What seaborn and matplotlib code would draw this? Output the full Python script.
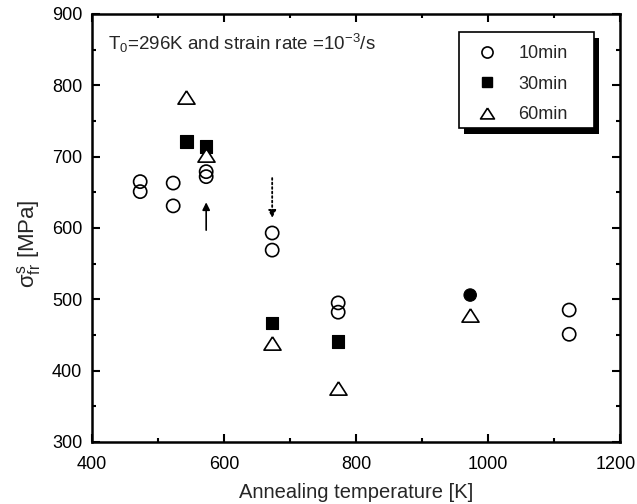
import numpy as np
import pandas as pd
import matplotlib
matplotlib.use("Agg")
import matplotlib.pyplot as plt
import matplotlib.transforms as mtransforms
import seaborn as sns
from matplotlib.lines import Line2D
from matplotlib.patches import Rectangle

# ---- data ----
T_10 = [473, 473, 523, 523, 573, 573, 673, 673, 773, 773, 1123, 1123]
S_10 = [665, 651, 663, 631, 679, 672, 593, 569, 495, 482, 485, 451]
T_30 = [543, 573, 673, 773, 973]
S_30 = [721, 714, 467, 441, 506]
SHAPE_30 = ["sq", "sq", "sq", "sq", "ci"]
T_60 = [543, 573, 673, 773, 973]
S_60 = [784, 702, 439, 376, 478]
LABELS = ["10min", "30min", "60min"]
ANNOT = r"T$_0$=296K and strain rate =10$^{-3}$/s"

sns.set_theme(style="ticks")
plt.rcParams["font.family"] = ["Liberation Sans", "DejaVu Sans"]
plt.rcParams["mathtext.fontset"] = "custom"
plt.rcParams["mathtext.rm"] = "Liberation Sans"
plt.rcParams["mathtext.it"] = "Liberation Sans"
plt.rcParams["mathtext.bf"] = "Liberation Sans:bold"

fig = plt.figure(figsize=(6.37, 5.04), dpi=100)
ax = fig.add_axes([92 / 637, 62 / 504, 528 / 637, 428 / 504])

df10 = pd.DataFrame({"T": T_10, "S": S_10})
df30 = pd.DataFrame({"T": T_30, "S": S_30, "shape": SHAPE_30})
df60 = pd.DataFrame({"T": T_60, "S": S_60})

tri = [(0, 0.78), (-1, -0.78), (1, -0.78), (0, 0.78)]

sns.scatterplot(data=df10, x="T", y="S", marker="o", s=90, facecolor="none",
                edgecolor="black", linewidth=1.2, ax=ax, legend=False, zorder=3)
sns.scatterplot(data=df30, x="T", y="S", style="shape",
                markers={"sq": "s", "ci": "o"}, s=80, color="black",
                edgecolor="black", linewidth=0.8, ax=ax, legend=False, zorder=3)
sns.scatterplot(data=df60, x="T", y="S", marker=tri, s=150, facecolor="white",
                edgecolor="black", linewidth=1.2, ax=ax, legend=False, zorder=4)

# arrows
ax.annotate("", xy=(573, 636), xytext=(573, 597),
            arrowprops=dict(arrowstyle="-|>", color="black", lw=1.2,
                            mutation_scale=11, shrinkA=0, shrinkB=0))
ax.annotate("", xy=(673, 614), xytext=(673, 670),
            arrowprops=dict(arrowstyle="-|>", color="black", lw=1.3,
                            linestyle=(0, (1, 1.5)), mutation_scale=11,
                            shrinkA=0, shrinkB=0))

ax.text(0.031, 0.932, ANNOT, transform=ax.transAxes, fontsize=13.5,
        ha="left", va="center")

ax.set_xlim(400, 1200)
ax.set_ylim(300, 900)
ax.set_xticks(np.arange(400, 1201, 200))
ax.set_xticks(np.arange(400, 1201, 100), minor=True)
ax.set_yticks(np.arange(300, 901, 100))
ax.set_yticks(np.arange(300, 901, 50), minor=True)
ax.tick_params(which="both", direction="in", top=True, right=True,
               labelsize=13, width=1.5, colors="black")
ax.tick_params(which="major", length=6)
ax.tick_params(axis="x", which="major", pad=10)
ax.tick_params(axis="y", which="major", pad=7)
ax.tick_params(which="minor", length=3)
for sp in ax.spines.values():
    sp.set_linewidth(1.8)
    sp.set_color("black")

ax.set_xlabel("Annealing temperature [K]", fontsize=14.5, labelpad=7)
ax.set_ylabel(r"$\sigma^{s}_{fr}$ [MPa]", fontsize=16)
ax.yaxis.set_label_coords(-0.093, 0.463)

# shift the last x tick label a little left so it stays inside the figure
fig.canvas.draw()
last = ax.get_xticklabels()[-1]
last.set_transform(last.get_transform() +
                   mtransforms.ScaledTranslation(-4 / 100, 0, fig.dpi_scale_trans))

# legend: handles/labels without frame, frame + shadow drawn as patches
handles = [
    Line2D([], [], ls="none", marker="o", markersize=8, mfc="none", mec="black", mew=1.2),
    Line2D([], [], ls="none", marker="s", markersize=7.5, mfc="black", mec="black"),
    Line2D([], [], ls="none", marker=tri, markersize=10, mfc="white", mec="black", mew=1.2),
]
leg = ax.legend(handles, LABELS, loc="upper left",
                bbox_to_anchor=((459 - 92) / 528, (442 - 36) / 428),
                borderaxespad=0, fontsize=13, frameon=False,
                labelspacing=0.75, handletextpad=0.7, borderpad=0.5,
                handlelength=2.1)
leg.set_zorder(11)

x0, x1 = (459 - 92) / 528, (594 - 92) / 528
y0, y1 = (442 - 128) / 428, (442 - 32) / 428
sdx, sdy = 5 / 528, 6 / 428
ax.add_patch(Rectangle((x0 + sdx, y0 - sdy), x1 - x0, y1 - y0, transform=ax.transAxes,
                       facecolor="black", edgecolor="none", zorder=9, clip_on=False))
ax.add_patch(Rectangle((x0, y0), x1 - x0, y1 - y0, transform=ax.transAxes,
                       facecolor="white", edgecolor="black", linewidth=1.2,
                       zorder=10, clip_on=False))

fig.savefig("out.png", dpi=100)
